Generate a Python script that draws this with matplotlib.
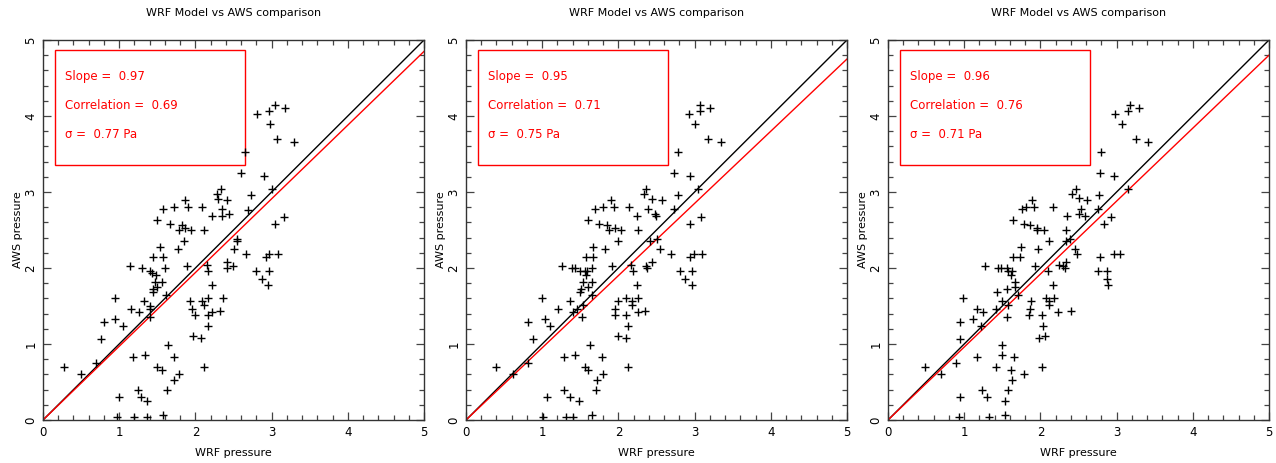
import matplotlib
matplotlib.use("Agg")
import matplotlib.pyplot as plt
from matplotlib.ticker import MultipleLocator
from matplotlib.patches import Rectangle

plt.rcParams['font.family'] = ['DejaVu Sans']

title = "WRF Model vs AWS comparison"
xlabel = "WRF pressure"
ylabel = "AWS pressure"

slopes = [0.97, 0.95, 0.96]
correlations = [0.69, 0.71, 0.76]
sigmas = [0.77, 0.75, 0.71]

wrf1 = [3.04, 3.17, 2.96, 2.81, 2.98, 3.07, 3.30, 2.65, 2.60, 2.90, 3.01, 2.34, 2.29, 2.73, 2.30, 2.42,
        1.86, 1.58, 1.72, 1.90, 2.09, 2.35, 2.69, 2.44, 2.22, 2.35, 1.50, 1.67, 1.83, 1.87, 1.94, 1.78,
        2.11, 3.16, 3.05, 1.85, 2.54, 2.55, 1.54, 1.77, 2.51, 1.44, 1.57, 2.66, 2.96, 2.93, 3.09, 1.14,
        1.30, 1.40, 1.43, 1.60, 1.48, 1.47, 1.56, 1.49, 1.44, 1.45, 1.61, 1.89, 2.15, 2.17, 2.41, 2.41,
        2.50, 2.22, 2.80, 2.96, 2.88, 2.95, 0.94, 1.32, 1.15, 1.26, 1.40, 1.40, 1.40, 0.80, 0.94, 1.05,
        0.76, 1.93, 1.95, 1.99, 2.09, 2.11, 2.17, 2.17, 2.22, 2.32, 2.36, 2.17, 1.97, 2.07, 1.64, 1.18,
        1.34, 1.72, 0.70, 0.27, 0.50, 1.50, 1.56, 2.11, 1.78, 1.72, 1.25, 1.63, 1.00, 1.29, 1.36, 0.97,
        1.20, 1.36, 1.57]
aws1 = [4.15, 4.11, 4.06, 4.02, 3.89, 3.70, 3.66, 3.53, 3.25, 3.21, 3.04, 3.04, 2.98, 2.96, 2.91, 2.89,
        2.90, 2.77, 2.80, 2.80, 2.80, 2.77, 2.76, 2.71, 2.68, 2.68, 2.63, 2.58, 2.56, 2.53, 2.50, 2.50,
        2.50, 2.67, 2.58, 2.36, 2.38, 2.36, 2.28, 2.25, 2.25, 2.14, 2.14, 2.18, 2.18, 2.14, 2.18, 2.03,
        2.00, 1.96, 1.94, 2.00, 1.91, 1.82, 1.82, 1.75, 1.72, 1.68, 1.64, 2.03, 2.04, 1.96, 2.08, 2.00,
        2.03, 1.78, 1.96, 1.96, 1.86, 1.78, 1.60, 1.56, 1.46, 1.42, 1.50, 1.46, 1.35, 1.29, 1.33, 1.24,
        1.06, 1.56, 1.46, 1.38, 1.56, 1.51, 1.60, 1.38, 1.42, 1.44, 1.60, 1.24, 1.11, 1.08, 0.99, 0.83,
        0.86, 0.83, 0.75, 0.70, 0.61, 0.70, 0.66, 0.70, 0.61, 0.52, 0.39, 0.39, 0.30, 0.30, 0.25, 0.04,
        0.04, 0.04, 0.06]

wrf2 = [3.07, 3.20, 3.07, 2.93, 3.01, 3.18, 3.34, 2.78, 2.73, 2.94, 3.04, 2.36, 2.33, 2.78, 2.44, 2.57,
        1.90, 1.69, 1.80, 1.94, 2.14, 2.39, 2.73, 2.48, 2.49, 2.25, 1.60, 1.74, 1.85, 1.88, 1.95, 2.04,
        2.26, 3.09, 2.94, 2.00, 2.41, 2.51, 1.67, 1.82, 2.54, 1.58, 1.67, 2.69, 2.94, 2.99, 3.10, 1.26,
        1.39, 1.43, 1.49, 1.56, 1.59, 1.58, 1.66, 1.54, 1.65, 1.60, 1.51, 1.50, 1.66, 1.92, 2.16, 2.19,
        2.36, 2.38, 2.44, 2.24, 2.81, 2.97, 2.88, 2.96, 1.00, 1.37, 1.21, 1.40, 1.46, 1.53, 1.52, 0.82,
        1.04, 1.10, 0.88, 2.00, 1.96, 1.95, 2.10, 2.18, 2.18, 2.26, 2.26, 2.35, 2.10, 2.12, 2.00, 2.10,
        1.63, 1.29, 1.43, 1.78, 0.82, 0.39, 0.62, 1.56, 1.60, 2.12, 1.80, 1.72, 1.28, 1.71, 1.06, 1.37,
        1.48, 1.01, 1.31, 1.40, 1.65]
aws2 = [4.15, 4.11, 4.06, 4.02, 3.89, 3.70, 3.66, 3.53, 3.25, 3.21, 3.04, 3.04, 2.98, 2.96, 2.91, 2.89,
        2.90, 2.77, 2.80, 2.80, 2.80, 2.77, 2.77, 2.71, 2.68, 2.68, 2.63, 2.58, 2.56, 2.50, 2.52, 2.50,
        2.50, 2.67, 2.58, 2.36, 2.36, 2.38, 2.27, 2.25, 2.25, 2.14, 2.14, 2.18, 2.14, 2.18, 2.18, 2.03,
        2.00, 2.00, 1.96, 1.96, 1.96, 1.91, 2.00, 1.82, 1.82, 1.75, 1.72, 1.68, 1.64, 2.03, 2.04, 1.96,
        2.03, 2.00, 2.08, 1.78, 1.96, 1.96, 1.86, 1.78, 1.60, 1.56, 1.46, 1.42, 1.46, 1.51, 1.35, 1.29,
        1.33, 1.24, 1.06, 1.56, 1.46, 1.38, 1.60, 1.56, 1.51, 1.60, 1.42, 1.44, 1.38, 1.24, 1.11, 1.08,
        0.99, 0.83, 0.86, 0.83, 0.75, 0.70, 0.61, 0.70, 0.66, 0.70, 0.61, 0.52, 0.39, 0.39, 0.30, 0.30,
        0.25, 0.04, 0.04, 0.04, 0.06]

wrf3 = [3.18, 3.29, 3.15, 2.98, 3.07, 3.25, 3.41, 2.80, 2.78, 2.97, 3.15, 2.47, 2.41, 2.77, 2.50, 2.61,
        1.89, 1.76, 1.81, 1.92, 2.17, 2.53, 2.75, 2.50, 2.58, 2.35, 1.64, 1.79, 1.86, 1.95, 1.95, 2.05,
        2.33, 2.92, 2.84, 2.11, 2.34, 2.39, 1.75, 1.97, 2.46, 1.64, 1.73, 2.48, 2.78, 2.96, 3.04, 1.27,
        1.44, 1.48, 1.56, 1.58, 1.63, 1.61, 1.67, 1.67, 1.56, 1.43, 1.71, 1.93, 2.10, 2.17, 2.25, 2.30,
        2.32, 2.34, 2.75, 2.87, 2.88, 2.89, 0.99, 1.42, 1.50, 1.58, 1.56, 1.17, 1.25, 1.22, 0.95, 1.11,
        0.95, 1.88, 1.87, 1.85, 2.02, 2.08, 2.11, 2.11, 2.18, 2.23, 2.40, 2.04, 1.98, 2.06, 1.50, 1.17,
        1.49, 1.66, 0.89, 0.48, 0.69, 1.42, 1.62, 2.02, 1.78, 1.63, 1.23, 1.58, 0.95, 1.30, 1.53, 0.93,
        1.33, 1.53]
aws3 = [4.15, 4.11, 4.06, 4.02, 3.89, 3.70, 3.66, 3.53, 3.25, 3.21, 3.04, 3.04, 2.98, 2.96, 2.92, 2.89,
        2.90, 2.77, 2.80, 2.80, 2.80, 2.77, 2.77, 2.71, 2.68, 2.68, 2.63, 2.58, 2.56, 2.50, 2.52, 2.50,
        2.50, 2.67, 2.58, 2.36, 2.36, 2.38, 2.27, 2.25, 2.25, 2.14, 2.14, 2.18, 2.14, 2.18, 2.18, 2.03,
        2.00, 2.00, 2.00, 1.96, 1.96, 1.91, 1.82, 1.75, 1.72, 1.68, 1.64, 2.03, 1.96, 1.78, 2.04, 2.03,
        2.00, 2.08, 1.96, 1.96, 1.86, 1.78, 1.60, 1.46, 1.56, 1.51, 1.35, 1.46, 1.42, 1.24, 1.29, 1.33,
        1.06, 1.56, 1.46, 1.38, 1.38, 1.60, 1.56, 1.51, 1.60, 1.42, 1.44, 1.24, 1.08, 1.11, 0.99, 0.83,
        0.86, 0.83, 0.75, 0.70, 0.61, 0.70, 0.66, 0.70, 0.61, 0.52, 0.39, 0.39, 0.30, 0.30, 0.25, 0.04,
        0.04, 0.06]

wrf_sets = [wrf1, wrf2, wrf3]
aws_sets = [aws1, aws2, aws3]

W, H = 1276, 463
fig = plt.figure(figsize=(W / 100, H / 100), dpi=100)
lefts = [43, 466, 888]
for i in range(3):
    ax = fig.add_axes([lefts[i] / W, 1 - 420 / H, 381 / W, 380 / H])
    ax.set_xlim(0, 5)
    ax.set_ylim(0, 5)
    ax.plot([0, 5], [0, 5], color='black', lw=1.0)
    ax.plot([0, 5], [0, 5 * slopes[i]], color='red', lw=1.0)
    ax.plot(wrf_sets[i], aws_sets[i], linestyle='none', marker='+', color='black',
            markersize=6, markeredgewidth=1.0)
    ax.add_patch(Rectangle((0.16, 3.36), 2.49, 1.51, fill=False, edgecolor='red', lw=1.0))
    ax.text(0.29, 4.52, f"Slope =  {slopes[i]:.2f}", color='red', fontsize=8.5, va='center')
    ax.text(0.29, 4.14, f"Correlation =  {correlations[i]:.2f}", color='red', fontsize=8.5, va='center')
    ax.text(0.29, 3.76, f"\u03c3 =  {sigmas[i]:.2f} Pa", color='red', fontsize=8.5, va='center')
    ax.xaxis.set_major_locator(MultipleLocator(1))
    ax.yaxis.set_major_locator(MultipleLocator(1))
    ax.xaxis.set_minor_locator(MultipleLocator(0.2))
    ax.yaxis.set_minor_locator(MultipleLocator(0.2))
    ax.tick_params(which='both', direction='in', top=True, right=True, labelsize=8.5,
                   width=0.9, color='#444444')
    ax.tick_params(axis='x', which='major', pad=4)
    ax.tick_params(axis='y', which='major', pad=4)
    ax.tick_params(which='major', length=6)
    ax.tick_params(which='minor', length=3.5)
    for lab in ax.get_yticklabels():
        lab.set_rotation(90)
        lab.set_va('center')
    ax.set_xlabel(xlabel, fontsize=8, labelpad=7)
    ax.set_ylabel(ylabel, fontsize=8, labelpad=1)
    ax.set_title(title, fontsize=8, pad=17)
    for s in ax.spines.values():
        s.set_linewidth(1.0)
        s.set_color('#333333')

fig.savefig("out.png", dpi=100)
